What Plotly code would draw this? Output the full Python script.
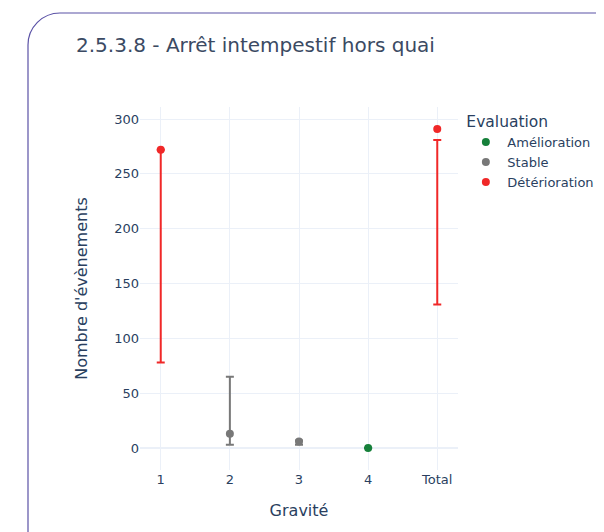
import plotly.graph_objects as go

categories = ["1", "2", "3", "4", "Total"]
evaluations = ["Amélioration", "Stable", "Détérioration"]
colors = {"Amélioration": "rgb(22,128,58)", "Stable": "rgb(120,120,120)", "Détérioration": "rgb(240,40,40)"}

# per-category values
gravite = ["1", "2", "3", "4", "Total"]
valeur = [272, 13, 6, 0, 291]
borne_basse = [78, 3, 3, 0, 131]
borne_haute = [272, 65, 7, 0, 281]
evaluation = ["Détérioration", "Stable", "Stable", "Amélioration", "Détérioration"]

FONT = "DejaVu Sans"
fig = go.Figure()
for ev in evaluations:
    idx = [i for i, e in enumerate(evaluation) if e == ev]
    xs = [gravite[i] for i in idx]
    ys = [valeur[i] for i in idx]
    lo = [valeur[i] - borne_basse[i] for i in idx]
    hi = [borne_haute[i] - valeur[i] for i in idx]
    fig.add_trace(go.Scatter(
        x=xs, y=ys, mode="markers", name=ev,
        marker=dict(color=colors[ev], size=8),
        error_y=dict(type="data", symmetric=False, array=hi, arrayminus=lo,
                     color=colors[ev], thickness=2, width=4),
    ))

# the page body has an 8px margin
W, H = 596, 524
ml, mr, mt, mb = 132, 146, 99, 62
pw, ph = W - ml - mr, H - mt - mb

def px(x):
    return (x - ml) / pw

def py(y):
    return (H - mb - y) / ph

r = 32
k = 0.5523 * r
x0, y0 = 20, 5
path = (f"M {px(x0)},{py(560)} L {px(x0)},{py(y0 + r)} "
        f"C {px(x0)},{py(y0 + r - k)} {px(x0 + r - k)},{py(y0)} {px(x0 + r)},{py(y0)} "
        f"L {px(640)},{py(y0)}")

fig.update_layout(
    template="plotly_white",
    width=W, height=H,
    margin=dict(l=ml, r=mr, t=mt, b=mb, autoexpand=False),
    font=dict(family=FONT, size=13, color="#2a3f5f"),
    title=dict(text="2.5.3.8 - Arrêt intempestif hors quai", x=68 / W, xanchor="left",
               y=1 - 37 / H, yanchor="middle", xref="container", yref="container",
               font=dict(family=FONT, size=20, color="#3b4a63")),
    legend=dict(title=dict(text="Evaluation", font=dict(size=15.5)), font=dict(size=13),
                x=1.02, xanchor="left", itemwidth=33),
    xaxis=dict(title=dict(text="Gravité", font=dict(size=16), standoff=18), type="category",
               categoryorder="array", categoryarray=categories, range=[-0.3, 4.3],
               automargin=True),
    yaxis=dict(title=dict(text="Nombre d'évènements", font=dict(size=16), standoff=22),
               range=[-20, 311], dtick=50, automargin=True),
    shapes=[dict(type="path", path=path, xref="paper", yref="paper",
                 line=dict(color="#5b52a6", width=1.2), layer="above")],
)

fig.write_html("out.html")
